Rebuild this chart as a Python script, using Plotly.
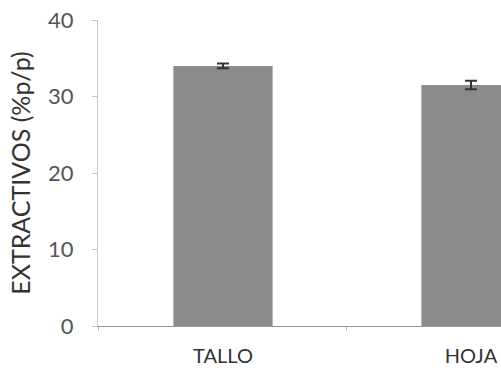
import plotly.graph_objects as go

categories = ["TALLO", "HOJA"]
values = [34.0, 31.5]
errors = [0.3, 0.55]
y_ticks = [0, 10, 20, 30, 40]

fig = go.Figure(
    go.Bar(
        x=categories,
        y=values,
        width=0.4,
        marker=dict(color="#8b8b8b", line=dict(width=0)),
        error_y=dict(type="data", array=errors, color="#333333", thickness=2, width=6),
    )
)

font_family = "Lato, 'Open Sans', sans-serif"
fig.update_layout(
    width=501,
    height=368,
    margin=dict(l=98, r=0, t=20, b=42, autoexpand=False),
    paper_bgcolor="white",
    plot_bgcolor="white",
    showlegend=False,
    font=dict(family=font_family, size=20, color="#404040"),
    xaxis=dict(
        range=[-0.504, 1.121],
        automargin=False,
        showline=True,
        linecolor="#9a9a9a",
        linewidth=1,
        ticks="outside",
        tickson="boundaries",
        ticklen=4,
        tickcolor="#bbbbbb",
        ticklabelstandoff=12,
        tickfont=dict(size=20, color="#333333"),
        showgrid=False,
        zeroline=False,
    ),
    yaxis=dict(
        range=[0, 40],
        automargin=False,
        tickvals=y_ticks,
        showline=True,
        linecolor="#c8c8c8",
        linewidth=1,
        ticks="outside",
        ticklen=5,
        tickcolor="#c8c8c8",
        ticklabelstandoff=14,
        tickfont=dict(size=22, color="#555555"),
        showgrid=False,
        zeroline=False,
        title=dict(text="EXTRACTIVOS (%p/p)", font=dict(size=25, color="#333333"), standoff=10),
    ),
)

fig.write_html(
    "out.html",
    config={"displayModeBar": False},
    post_script="document.body.style.margin='0';document.body.style.overflow='hidden';",
)
